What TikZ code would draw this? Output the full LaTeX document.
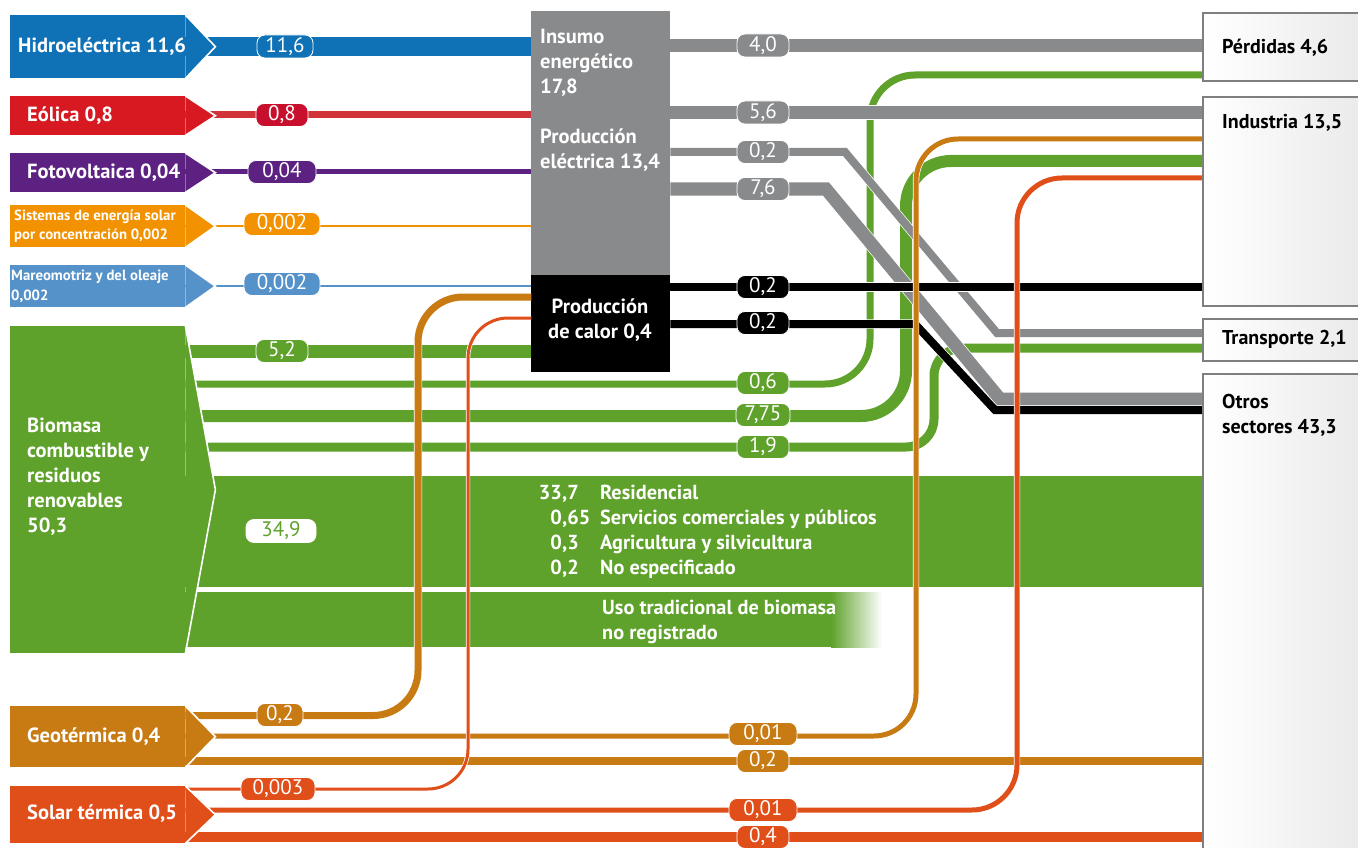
\documentclass[tikz,border=0pt]{standalone}
\usepackage{fontspec}
\setmainfont{PT Sans}
\usetikzlibrary{calc}
\definecolor{hyd}{HTML}{0F71B6}
\definecolor{eol}{HTML}{D71A21}
\definecolor{eolband}{HTML}{D03438}
\definecolor{eolpill}{HTML}{C8102E}
\definecolor{pv}{HTML}{5D2281}
\definecolor{csp}{HTML}{F39200}
\definecolor{tide}{HTML}{5592CA}
\definecolor{bio}{HTML}{5FA22B}
\definecolor{gry}{HTML}{898A8C}
\definecolor{geo}{HTML}{C87B12}
\definecolor{sol}{HTML}{E04E19}
\definecolor{boxline}{HTML}{7F7F7F}
\newcommand\flowpath[4][]{\draw[#1,white,line width=#3pt+1.4pt]#4;\draw[#1,#2,line width=#3pt]#4;}
\tikzset{
  srcbox/.style={rectangle, fill=#1, anchor=north west, inner sep=0pt, minimum width=175pt},
  srctext/.style={anchor=west, text=white, font=\bfseries\fontsize{20.5}{25}\selectfont, align=left, inner sep=0pt},
  smalltext/.style={anchor=west, text=white, font=\bfseries\fontsize{14.8}{19.5}\selectfont, align=left, inner sep=0pt},
  pill/.style={fill=#1, draw=white, line width=0.8pt, rounded corners=8pt, minimum height=23pt, minimum width=52pt, inner xsep=6pt, inner ysep=0pt, text=white, font=\fontsize{21}{22}\selectfont},
  sink/.style={rectangle, draw=boxline, line width=1.8pt, left color=white, right color=black!9, anchor=north west, inner sep=0pt, minimum width=175pt},
  sinktext/.style={anchor=west, align=left, font=\bfseries\fontsize{20}{25}\selectfont, inner sep=0pt},
  midtext/.style={text=white, font=\bfseries\fontsize{20.3}{25}\selectfont, inner sep=0pt},
}
\begin{document}
\begin{tikzpicture}[x=1pt,y=-1pt]
\useasboundingbox (0,0) rectangle (1358,848);

% ---------- nodes (geometry, drawn later on top) ----------
\path
 node[srcbox=hyd,  minimum height=63pt] (hidro) at (10,15) {}
 node[srcbox=eol,  minimum height=39pt] (eolica) at (10,96) {}
 node[srcbox=pv,   minimum height=39pt] (foto) at (10,153) {}
 node[srcbox=csp,  minimum height=42pt] (csp) at (10,205) {}
 node[srcbox=tide, minimum height=42pt] (mareo) at (10,265) {}
 node[srcbox=bio,  minimum height=327pt] (biomasa) at (10,326) {}
 node[srcbox=geo,  minimum height=61pt] (geoterm) at (10,706) {}
 node[srcbox=sol,  minimum height=57pt] (solar) at (10,786) {};
\path
 node[rectangle, fill=gry, anchor=north west, inner sep=0pt, minimum width=139pt, minimum height=264pt] (gris) at (531,11) {}
 node[rectangle, fill=black, anchor=north west, inner sep=0pt, minimum width=139pt, minimum height=97pt] (calor) at (531,275) {};

% ---------- biomass flows ----------
\flowpath[rounded corners=45pt]{bio}{7}{(biomasa.east |- 0,384) -- (870,384) -- (870,75) -- (1202,75)}
\flowpath[rounded corners=45pt]{bio}{12}{(biomasa.east |- 0,416) -- (906,416) -- (906,161) -- (1202,161)}
\flowpath[rounded corners=28pt]{bio}{9}{(biomasa.east |- 0,447) -- (934,447) -- (934,348) -- (1202,348)}
\flowpath{bio}{13}{(biomasa.east |- 0,351) -- (calor.west |- 0,351)}
\fill[bio] (biomasa.east |- 0,476) rectangle (1202,587);
\fill[bio] (biomasa.east |- 0,592) rectangle (832,647);
\shade[left color=bio, right color=white] (831,592) rectangle (882,647);

% ---------- electricity / heat outputs ----------
\flowpath{gry}{13}{(gris.east |- 0,45.5) -- (1202,45.5)}
\flowpath{gry}{13}{(gris.east |- 0,112.5) -- (1202,112.5)}
\flowpath{gry}{8}{(gris.east |- 0,152) -- (845,152) -- (997,333) -- (1202,333)}
\flowpath{gry}{13}{(gris.east |- 0,189) -- (826,189) -- (1000,399) -- (1202,399)}
\flowpath{black}{8}{(calor.east |- 0,287) -- (1202,287)}
\flowpath{black}{8}{(calor.east |- 0,324) -- (915,324) -- (995,410) -- (1202,410)}

% ---------- source bands ----------
\flowpath{hyd}{19}{(hidro.east |- 0,46.5) -- (gris.west |- 0,46.5)}
\flowpath{eolband}{7}{(eolica.east |- 0,114.5) -- (gris.west |- 0,114.5)}
\flowpath{pv}{5}{(foto.east |- 0,172) -- (gris.west |- 0,172)}
\flowpath{csp}{2.5}{(csp.east |- 0,226) -- (gris.west |- 0,226)}
\flowpath{tide}{2.5}{(mareo.east |- 0,286) -- (calor.west |- 0,286)}

% ---------- geothermal ----------
\flowpath[rounded corners=45pt]{geo}{7}{(geoterm.east |- 0,715.5) -- (418,715.5) -- (418,297) -- (calor.west |- 0,297)}
\flowpath[rounded corners=42pt]{geo}{5}{(geoterm.east |- 0,736) -- (916,736) -- (916,139) -- (1202,139)}
\flowpath{geo}{8}{(geoterm.east |- 0,761) -- (1202,761)}

% ---------- solar thermal ----------
\flowpath[rounded corners=40pt]{sol}{3}{(solar.east |- 0,789) -- (468,789) -- (468,318) -- (calor.west |- 0,318)}
\flowpath[rounded corners=45pt]{sol}{5}{(solar.east |- 0,810) -- (1017,810) -- (1017,178) -- (1202,178)}
\flowpath{sol}{10}{(solar.east |- 0,837) -- (1202,837)}

% ---------- source shapes on top ----------
\foreach \n/\c in {hidro/hyd, eolica/eol, foto/pv, csp/csp, mareo/tide, biomasa/bio, geoterm/geo, solar/sol}{
  \fill[\c] (\n.north west) rectangle (\n.south east);
  \fill[\c] (\n.north east) -- ($(\n.east)+(30,0)$) -- (\n.south east) -- cycle;
  \draw[white, line width=1.6pt] (\n.north east) -- ($(\n.east)+(30,0)$) -- (\n.south east);
}
\node[srctext] at ($(hidro.west)+(8,0)$) {Hidroeléctrica 11,6};
\node[srctext] at ($(eolica.west)+(17,0)$) {Eólica 0,8};
\node[srctext] at ($(foto.west)+(17,0)$) {Fotovoltaica 0,04};
\node[smalltext] at ($(csp.west)+(4,0)$) {Sistemas de energía solar\\por concentración 0,002};
\node[smalltext] at ($(mareo.west)+(1,0)$) {Mareomotriz y del oleaje\\0,002};
\node[srctext] at ($(biomasa.west)+(17,-13)$) {Biomasa\\combustible y\\residuos\\renovables\\50,3};
\node[srctext] at ($(geoterm.west)+(17,0)$) {Geotérmica 0,4};
\node[srctext] at ($(solar.west)+(17,-1)$) {Solar térmica 0,5};

% ---------- centre boxes text ----------
\node[srctext, anchor=north west] at (540,29) {Insumo\\energético\\17,8};
\node[srctext, anchor=north west] at (540,129) {Producción\\eléctrica 13,4};
\node[srctext, align=center, anchor=center] at (600,320) {Producción\\de calor 0,4};

% ---------- biomass text ----------
\foreach \y/\a/\b/\t in {497/33/7/Residencial, 522/0/65/Servicios comerciales y públicos, 547/0/3/Agricultura y silvicultura, 572/0/2/No especificado}{
  \node[midtext, anchor=mid east] at (562,\y) {\a};
  \node[midtext, anchor=mid west] at (562,\y) {,\b};
  \node[midtext, anchor=mid west] at (600,\y) {\t};
}
\node[midtext, anchor=west, align=left] at (602,622) {Uso tradicional de biomasa\\no registrado};

% ---------- pills ----------
\node[pill=hyd, minimum width=56pt] at (285,46.5) {11,6};
\node[pill=eolpill] at (282,115) {0,8};
\node[pill=pv, minimum width=68pt] at (282,172) {0,04};
\node[pill=csp, minimum width=76pt] at (282,224) {0,002};
\node[pill=tide, minimum width=76pt] at (282,284) {0,002};
\node[pill=bio] at (282,351) {5,2};
\node[pill=white, minimum width=70pt, text=bio] at (281,531) {34,9};
\node[pill=geo, minimum width=46pt] at (280,715) {0,2};
\node[pill=sol, minimum width=74pt] at (278,789) {0,003};
\node[pill=gry] at (763,45.5) {4,0};
\node[pill=gry] at (763,112.5) {5,6};
\node[pill=gry] at (763,152) {0,2};
\node[pill=gry] at (763,189) {7,6};
\node[pill=black] at (763,287) {0,2};
\node[pill=black] at (763,323) {0,2};
\node[pill=bio] at (763,383) {0,6};
\node[pill=bio, minimum width=54pt] at (763,415) {7,75};
\node[pill=bio] at (763,447) {1,9};
\node[pill=geo, minimum width=68pt] at (763,734) {0,01};
\node[pill=geo] at (763,761) {0,2};
\node[pill=sol, minimum width=68pt] at (763,810) {0,01};
\node[pill=sol] at (763,837) {0,4};

% ---------- sinks ----------
\node[sink, minimum height=68pt] (perdidas) at (1202,12) {};
\node[sink, minimum height=209pt] (industria) at (1202,96) {};
\node[sink, minimum height=42pt] (transporte) at (1202,318) {};
\node[sink, minimum height=500pt] (otros) at (1202,373) {};
\node[sinktext] at (1222,48) {Pérdidas 4,6};
\node[sinktext] at (1222,123) {Industria 13,5};
\node[sinktext] at (1222,339) {Transporte 2,1};
\node[sinktext] at (1222,415) {Otros\\sectores 43,3};
\end{tikzpicture}
\end{document}
